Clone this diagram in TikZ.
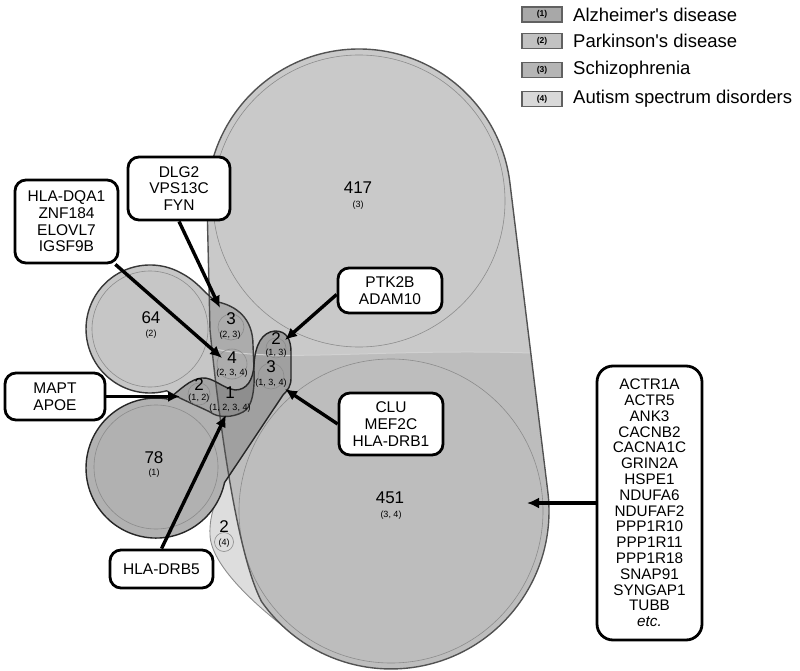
\documentclass[tikz,border=0pt]{standalone}
\usepackage{fontspec}
\setmainfont{Liberation Sans}
\usepackage{tikz}
\usetikzlibrary{positioning}
\usetikzlibrary{arrows.meta}
\definecolor{sczgray}{HTML}{C9C9C9}
\definecolor{bothgray}{HTML}{BDBDBD}
\definecolor{autgray}{HTML}{DDDDDD}
\definecolor{parkgray}{HTML}{C6C6C6}
\definecolor{alzgray}{HTML}{B1B1B1}
\definecolor{pagray}{HTML}{A4A4A4}
\definecolor{psgray}{HTML}{ACACAC}
\definecolor{asgray}{HTML}{A0A0A0}
\definecolor{allgray}{HTML}{8E8E8E}
\definecolor{ringgray}{HTML}{8C8C8C}
% outlines of the four disease sets (pixel coordinates, y down)
\newcommand{\pathSchizo}{(207,201) arc[start angle=180,end angle=353,radius=152]
  -- (547.8,491.7) arc[start angle=-7,end angle=145,radius=158]
  .. controls (240,560) and (222,450) .. (210,330) -- cycle}
\newcommand{\pathAutism}{(212,348) .. controls (270,364) and (380,348) .. (530.5,353)
  -- (546.6,492) arc[start angle=-7,end angle=130,radius=157]
  .. controls (255,605) and (211,565) .. (210,535)
  .. controls (209,512) and (218,497) .. (226,480)
  .. controls (220,440) and (213,400) .. cycle}
\newcommand{\pathPark}{(166.6,390.8) arc[start angle=75,end angle=300,radius=64]
  .. controls (200,283) and (208,298) .. (218,302)
  .. controls (236,306) and (253,318) .. (253,345) -- (254,370)
  .. controls (255,390) and (252,408) .. (243,412)
  .. controls (232,418) and (218,418) .. (210,412)
  .. controls (198,406) and (178,398) .. (166.6,390.8) -- cycle}
\newcommand{\pathAlz}{(168.2,399.1) .. controls (180,390) and (190,379) .. (202,378)
  .. controls (213,377) and (222,388) .. (235,390)
  .. controls (247,390) and (253,380) .. (254,365)
  .. controls (255,345) and (262,332) .. (275,331)
  .. controls (287,331) and (291,340) .. (291,352) -- (291,378)
  .. controls (291,386) and (288,390) .. (283,395)
  -- (224.5,482.6) arc[start angle=12,end angle=280,radius=70] -- cycle}
\tikzset{
sczline/.style={draw=black!68, line width=1.4pt},
autline/.style={draw=black!45, line width=0.9pt},
parkline/.style={draw=black!78, line width=1.4pt},
alzline/.style={draw=black!85, line width=1.4pt},
edgelight/.style={draw=white!82!black, line width=1pt},
ringline/.style={draw=ringgray, line width=0.6pt}, % thin inner circles
bignum/.style={inner sep=0pt, font=\fontsize{17}{19}\selectfont},
subset/.style={inner sep=0pt, font=\fontsize{9}{10}\selectfont},
genebox/.style={ % gene list boxes
draw, line width=2.8pt, fill=white,
rounded corners=11pt, align=center, inner sep=0pt,
font=\fontsize{15.5}{16.6}\selectfont},
pointer/.style={line width=3.4pt, -{Latex[length=12pt,width=11pt]}},
keybox/.style={draw=black!62, line width=1.2pt, minimum width=40pt,
minimum height=15pt, inner sep=0pt, font=\bfseries\fontsize{8.5}{9}\selectfont},
keytext/.style={anchor=west, inner sep=0pt, font=\fontsize{18.5}{20}\selectfont}}

\begin{document}
\begin{tikzpicture}[x=1pt,y=-1pt]
\useasboundingbox (0,0) rectangle (800,671);

% set fills
\fill[autgray] \pathAutism;
\draw[autline] \pathAutism;
\fill[sczgray] \pathSchizo;
\begin{scope}
\clip \pathSchizo;
\fill[bothgray] \pathAutism;
\end{scope}
\draw[ringline] (359,201) circle[radius=146];
\draw[ringline] (391,511) circle[radius=152];

\fill[parkgray] \pathPark;
\fill[alzgray] \pathAlz;
\begin{scope}
\clip \pathPark;
\fill[pagray] \pathAlz;
\end{scope}
\begin{scope}
\clip \pathSchizo;
\fill[psgray] \pathPark;
\fill[asgray] \pathAlz;
\end{scope}
\begin{scope}
\clip \pathSchizo;
\clip \pathPark;
\fill[allgray] \pathAlz;
\end{scope}
\begin{scope}
\clip \pathSchizo;
\draw[edgelight] (212,348) .. controls (270,364) and (380,348) .. (530.5,353);
\end{scope}
\draw[ringline] (150,329) circle[radius=58];
\draw[ringline] (156,467) circle[radius=62];

% set outlines
\draw[sczline] \pathSchizo;
\draw[parkline] \pathPark;
\draw[alzline] \pathAlz;

% small rings round the region labels
\draw[ringline] (231,327) circle[radius=13];
\draw[ringline] (232,364) circle[radius=15];
\draw[ringline] (276,348) circle[radius=10];
\draw[ringline] (271,376) circle[radius=13];
\draw[ringline] (199,394) circle[radius=11];
\draw[ringline] (224,542) circle[radius=9.5];

% region counts
\node[bignum] (n417) at (358,188) {417};
\node[subset] (s417) at (358,205) {(3)};
\node[bignum] (n451) at (390,498) {451};
\node[subset] (s451) at (391,515) {(3, 4)};
\node[bignum] (n64) at (151,318) {64};
\node[subset] (s64) at (151,334) {(2)};
\node[bignum] (n78) at (154,458) {78};
\node[subset] (s78) at (154,473) {(1)};
\node[bignum] (n23) at (231,319) {3};
\node[subset] (s23) at (230,335) {(2, 3)};
\node[bignum] (n234) at (232,358) {4};
\node[subset] (s234) at (232,373) {(2, 3, 4)};
\node[bignum] (n1234) at (230,393) {1};
\node[subset] (s1234) at (230,408) {(1, 2, 3, 4)};
\node[bignum] (n12) at (199,385) {2};
\node[subset] (s12) at (199,398) {(1, 2)};
\node[bignum] (n13) at (276,339) {2};
\node[subset] (s13) at (276,353) {(1, 3)};
\node[bignum] (n134) at (271,367) {3};
\node[subset] (s134) at (271,383) {(1, 3, 4)};
\node[bignum] (n4) at (224,527) {2};
\node[subset] (s4) at (224,543) {(4)};

% gene boxes
\node[genebox, minimum width=103pt, minimum height=83pt] (dqa) at (66.5,221.5) {HLA-DQA1\\ZNF184\\ELOVL7\\IGSF9B};
\node[genebox, minimum width=102pt, minimum height=63pt] (dlg) at (179,188.5) {DLG2\\VPS13C\\FYN};
\node[genebox, minimum width=104pt, minimum height=45pt] (ptk) at (390,290.5) {PTK2B\\ADAM10};
\node[genebox, minimum width=100pt, minimum height=47pt] (mapt) at (55,396.5) {MAPT\\APOE};
\node[genebox, minimum width=104pt, minimum height=62pt] (clu) at (391,424) {CLU\\MEF2C\\HLA-DRB1};
\node[genebox, minimum width=103pt, minimum height=38pt] (drb5) at (161.5,569) {HLA-DRB5};
\node[genebox, rounded corners=16pt, minimum width=105pt, minimum height=274pt,
font=\fontsize{15.3}{15.8}\selectfont] (list) at (649.5,503)
{ACTR1A\\ACTR5\\ANK3\\CACNB2\\CACNA1C\\GRIN2A\\HSPE1\\NDUFA6\\NDUFAF2\\PPP1R10\\PPP1R11\\PPP1R18\\SNAP91\\SYNGAP1\\TUBB\\\textit{etc.}};

\coordinate (tipDQA) at (222,358);
\coordinate (tipDLG) at (220,308);
\coordinate (tipPTK) at (285,340);
\coordinate (tipMAPT) at (180,396.5);
\coordinate (tipCLU) at (285,389);
\coordinate (tipDRB5) at (226,415);
\coordinate (tipLIST) at (527,503);
\draw[pointer] (dqa) -- (tipDQA);
\draw[pointer] (dlg.south) -- (tipDLG);
\draw[pointer] ([yshift=-4pt]ptk.west) -- (tipPTK);
\draw[pointer] (mapt.east) -- (tipMAPT);
\draw[pointer] (clu.west) -- (tipCLU);
\draw[pointer] (drb5.north) -- (tipDRB5);
\draw[pointer] (list.west) -- (tipLIST);

% legend
\node[keybox, fill=black!34] (k1) at (542,14.5) {(1)};
\node[keybox, fill=black!24] (k2) at (542,41) {(2)};
\node[keybox, fill=black!29] (k3) at (542,70) {(3)};
\node[keybox, fill=black!15] (k4) at (542,99) {(4)};
\node[keytext] (t1) at (573,14.5) {Alzheimer\textquotesingle s disease};
\node[keytext] (t2) at (573,41) {Parkinson\textquotesingle s disease};
\node[keytext] (t3) at (573,70) {Schizophrenia};
\node[keytext] (t4) at (573,99) {Autism spectrum disorders};
\end{tikzpicture}
\end{document}
